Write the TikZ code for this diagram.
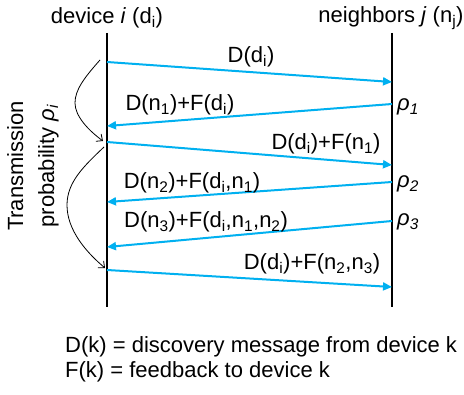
\documentclass[tikz,border=0pt]{standalone}
\usepackage{fontspec}
\setmainfont{Liberation Sans}
\usetikzlibrary{arrows.meta}
\definecolor{msgblue}{RGB}{0,176,240}
\newcommand{\sbs}[1]{\textsubscript{#1}}
\begin{document}
\begin{tikzpicture}[x=1pt,y=-1pt,
  every node/.style={inner sep=0pt,font=\fontsize{22}{31}\selectfont},
  lifeline/.style={line width=2pt,black},
  msg/.style={line width=2pt,msgblue,-{Triangle[length=9pt,width=8pt]}},
  lbl/.style={anchor=center},
  rho/.style={anchor=west},
  loop/.style={line width=0.8pt,black,-{Straight Barb[length=5pt,width=9pt]}}]
\useasboundingbox (0,0) rectangle (464,395);
% lifelines
\coordinate (lt) at (107,33);
\coordinate (lb) at (107,307);
\coordinate (rt) at (392,33);
\coordinate (rb) at (392,307);
\draw[lifeline] (lt) -- (lb);
\draw[lifeline] (rt) -- (rb);
% headers
\node (hl) at (107,18) {device \textit{i} (d\sbs{i})};
\node (hr) at (391,18) {neighbors \textit{j} (n\sbs{j})};
% message endpoints
\coordinate (a1) at (107,62);  \coordinate (b1) at (392,82);
\coordinate (b2) at (392,104); \coordinate (a2) at (107,126);
\coordinate (a3) at (107,142); \coordinate (b3) at (392,165);
\coordinate (b4) at (392,182); \coordinate (a4) at (107,202);
\coordinate (b5) at (392,221); \coordinate (a5) at (107,247);
\coordinate (a6) at (107,270); \coordinate (b6) at (392,287);
\draw[msg] (a1) -- (b1);
\draw[msg] (b2) -- (a2);
\draw[msg] (a3) -- (b3);
\draw[msg] (b4) -- (a4);
\draw[msg] (b5) -- (a5);
\draw[msg] (a6) -- (b6);
% message labels
\node[lbl] (m1) at (251,57) {D(d\sbs{i})};
\node[lbl] (m2) at (180,105) {D(n\sbs{1})+F(d\sbs{i})};
\node[lbl] (m3) at (326,144) {D(d\sbs{i})+F(n\sbs{1})};
\node[lbl] (m4) at (192,183) {D(n\sbs{2})+F(d\sbs{i},n\sbs{1})};
\node[lbl] (m5) at (206,222) {D(n\sbs{3})+F(d\sbs{i},n\sbs{1},n\sbs{2})};
\node[lbl] (m6) at (312,264) {D(d\sbs{i})+F(n\sbs{2},n\sbs{3})};
% rho labels
\node[rho] (r1) at (397,107) {\itshape ρ\sbs{1}};
\node[rho] (r2) at (397,184) {\itshape ρ\sbs{2}};
\node[rho] (r3) at (397,222) {\itshape ρ\sbs{3}};
% transmission probability curves
\coordinate (c1s) at (100,60);
\coordinate (c1m) at (75,103);
\coordinate (c1e) at (103,141);
\coordinate (c2s) at (104,147);
\coordinate (c2m) at (67,205);
\coordinate (c2e) at (105,268);
\draw[loop] (c1s) .. controls (84,78) and (75,90) .. (c1m)
                  .. controls (75,116) and (88,130) .. (c1e);
\draw[loop] (c2s) .. controls (84,166) and (67,182) .. (c2m)
                  .. controls (67,230) and (86,252) .. (c2e);
\node[rotate=90,align=center] (tp) at (33,166) {Transmission\\probability \textit{ρ\sbs{i}}};
% legend
\node[anchor=base west] (lg1) at (65,353) {D(k) = discovery message from device k};
\node[anchor=base west] (lg2) at (65,378) {F(k) = feedback to device k};
\end{tikzpicture}
\end{document}
